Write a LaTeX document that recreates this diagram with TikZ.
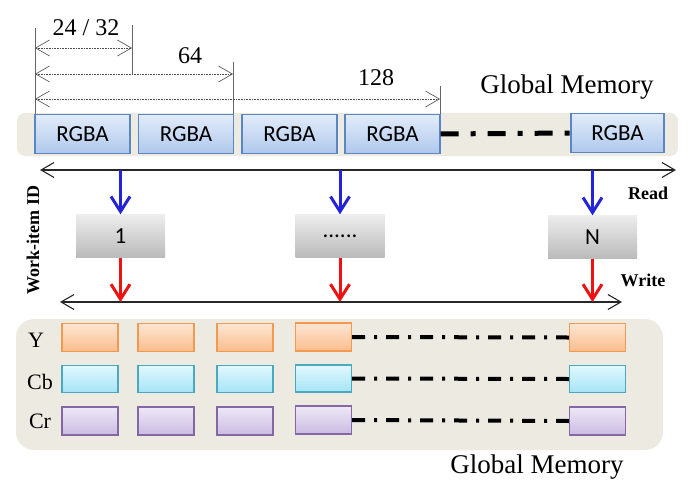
\documentclass[tikz,border=0pt]{standalone}
\usepackage{fontspec}
\setmainfont{Liberation Serif}
\newfontfamily\carlitofont{Carlito}
\usetikzlibrary{arrows.meta}
\definecolor{bandc}{HTML}{ECEAE1}
\definecolor{rgbaB}{HTML}{5A86C4}
\definecolor{rgbaT}{HTML}{E2ECFA}
\definecolor{rgbaL}{HTML}{AFC8EC}
\definecolor{yB}{HTML}{F39A50}
\definecolor{yT}{HTML}{FDE6D4}
\definecolor{yL}{HTML}{F9BD8C}
\definecolor{cbB}{HTML}{4AA9BE}
\definecolor{cbT}{HTML}{E2F8FE}
\definecolor{cbL}{HTML}{A4E4F6}
\definecolor{crB}{HTML}{8468A6}
\definecolor{crT}{HTML}{EEE8F6}
\definecolor{crL}{HTML}{CABBE2}
\definecolor{blueA}{HTML}{2323D8}
\definecolor{redA}{HTML}{EE1111}
\tikzset{
  rgbabox/.style={draw=rgbaB, line width=1.2pt, top color=rgbaT, bottom color=rgbaL, minimum width=95pt, minimum height=39pt, inner sep=0pt, font=\carlitofont\fontsize{23}{25}\selectfont},
  ybox/.style={draw=yB, line width=1.2pt, top color=yT, bottom color=yL, minimum width=56pt, minimum height=28pt, inner sep=0pt},
  cbbox/.style={draw=cbB, line width=1.2pt, top color=cbT, bottom color=cbL, minimum width=56pt, minimum height=27pt, inner sep=0pt},
  crbox/.style={draw=crB, line width=1.2pt, top color=crT, bottom color=crL, minimum width=56pt, minimum height=28pt, inner sep=0pt},
  wibox/.style={top color=black!7, bottom color=black!27, minimum width=89pt, minimum height=43pt, inner sep=0pt, font=\carlitofont\fontsize{23}{25}\selectfont},
  dimline/.style={densely dotted, line width=0.6pt, black!70, {Straight Barb[length=14pt,width=16pt,line width=0.6pt]}-{Straight Barb[length=14pt,width=16pt,line width=0.6pt]}},
  tick/.style={line width=0.6pt, black!60},
  rwline/.style={line width=1.1pt, black!85, {Straight Barb[length=13pt,width=15pt]}-{Straight Barb[length=13pt,width=15pt]}},
  readarr/.style={line width=3pt, blueA, -{Straight Barb[length=15pt,width=19pt]}},
  writearr/.style={line width=3pt, redA, -{Straight Barb[length=15pt,width=19pt]}},
  bigdd/.style={line width=5pt, dash pattern=on 18pt off 12pt on 5pt off 12pt},
  smalldd/.style={line width=4pt, dash pattern=on 13pt off 9pt on 3pt off 9pt},
  numtxt/.style={font=\fontsize{24}{26}\selectfont, inner sep=0pt},
  gmtxt/.style={font=\fontsize{27}{29}\selectfont, inner sep=0pt},
  rowlbl/.style={font=\fontsize{22}{24}\selectfont, inner sep=0pt},
  rwtxt/.style={font=\bfseries\fontsize{18}{20}\selectfont, inner sep=0pt}
}
\begin{document}
\begin{tikzpicture}[x=1pt, y=-1pt]
\useasboundingbox (0,0) rectangle (692,492);
% bands
\path[fill=bandc, rounded corners=8pt] (17,113) rectangle (678,156);
\path[fill=bandc, rounded corners=18pt] (16,319) rectangle (663,450);
% top RGBA boxes
\node[rgbabox] (g1) at (82.5,134) {RGBA};
\node[rgbabox] (g2) at (186,134) {RGBA};
\node[rgbabox] (g3) at (289.5,134) {RGBA};
\node[rgbabox] (g4) at (392.5,134) {RGBA};
\node[rgbabox, minimum width=93pt] (g5) at (617.5,133) {RGBA};
\draw[bigdd] (g4.east) -- (g5.west);
% dimension ticks
\coordinate (t0a) at (35,28);  \coordinate (t0b) at (35,114);
\coordinate (t1a) at (132,25); \coordinate (t1b) at (132,74);
\coordinate (t2a) at (233,62); \coordinate (t2b) at (233,114);
\coordinate (t3a) at (440,86); \coordinate (t3b) at (440,114);
\draw[tick] (t0a) -- (t0b);
\draw[tick] (t1a) -- (t1b);
\draw[tick] (t2a) -- (t2b);
\draw[tick] (t3a) -- (t3b);
\coordinate (d1a) at (35,48);  \coordinate (d1b) at (132,48);
\coordinate (d2a) at (35,74);  \coordinate (d2b) at (233,74);
\coordinate (d3a) at (35,99);  \coordinate (d3b) at (440,99);
\draw[dimline] (d1a) -- (d1b);
\draw[dimline] (d2a) -- (d2b);
\draw[dimline] (d3a) -- (d3b);
\node[numtxt] (n1) at (86,28) {24 / 32};
\node[numtxt] (n2) at (190,56) {64};
\node[numtxt] (n3) at (376,78) {128};
\node[gmtxt] (gm1) at (567,87) {Global Memory};
% read line
\coordinate (rl) at (40,170); \coordinate (rr) at (676,170);
\draw[rwline] (rl) -- (rr);
\node[rwtxt] (rd) at (648,193) {Read};
% work items
\node[wibox] (w1) at (120.5,236) {1};
\node[wibox] (w2) at (340,236) {......};
\node[wibox] (w3) at (592.5,237) {N};
\coordinate (r1) at (120.5,170); \coordinate (r2) at (340,170); \coordinate (r3) at (592.5,170);
\draw[readarr] (r1) -- (w1.north);
\draw[readarr] (r2) -- (w2.north);
\draw[readarr] (r3) -- (w3.north);
\node[rwtxt, rotate=90] (wid) at (33,240) {Work-item ID};
% write line
\coordinate (wl) at (60,302); \coordinate (wr) at (622,302);
\draw[rwline] (wl) -- (wr);
\node[rwtxt] (wt) at (643,280) {Write};
\coordinate (s1) at (120.5,302); \coordinate (s2) at (340,302); \coordinate (s3) at (592.5,302);
\draw[writearr] (w1.south) -- (s1);
\draw[writearr] (w2.south) -- (s2);
\draw[writearr] (w3.south) -- (s3);
% Y row
\node[ybox] (y1) at (90,337.5) {};
\node[ybox] (y2) at (166,337.5) {};
\node[ybox] (y3) at (245,337.5) {};
\node[ybox] (y4) at (323.5,337) {};
\node[ybox] (y5) at (597.5,337.5) {};
\draw[smalldd] (y4.east) -- (y5.west);
% Cb row
\node[cbbox] (c1) at (90,379) {};
\node[cbbox] (c2) at (166,379) {};
\node[cbbox] (c3) at (245,379) {};
\node[cbbox] (c4) at (323.5,378.5) {};
\node[cbbox] (c5) at (597.5,379) {};
\draw[smalldd] (c4.east) -- (c5.west);
% Cr row
\node[crbox] (k1) at (90,421) {};
\node[crbox] (k2) at (166,421) {};
\node[crbox] (k3) at (245,421) {};
\node[crbox] (k4) at (323.5,420) {};
\node[crbox] (k5) at (597.5,421) {};
\draw[smalldd] (k4.east) -- (k5.west);
\node[rowlbl] (ly) at (36,340) {Y};
\node[rowlbl] (lcb) at (40,382) {Cb};
\node[rowlbl] (lcr) at (40,421) {Cr};
\node[gmtxt] (gm2) at (537,467) {Global Memory};
\end{tikzpicture}
\end{document}
